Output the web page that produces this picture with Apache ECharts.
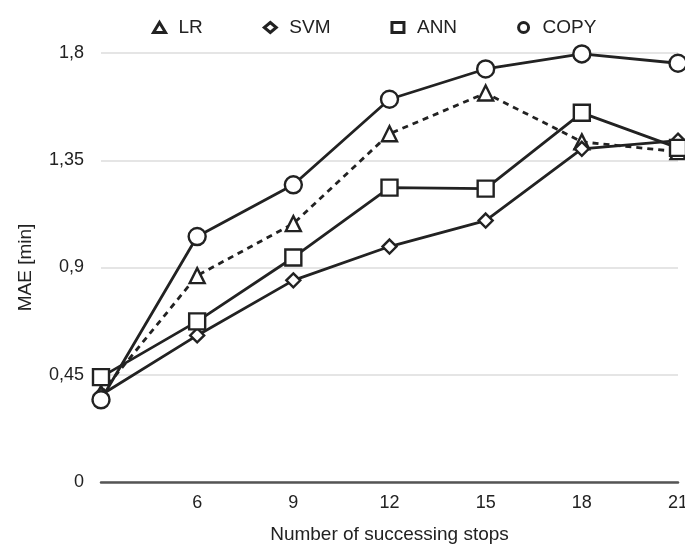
<!DOCTYPE html>
<html>
<head>
<meta charset="utf-8">
<script src="https://cdn.jsdelivr.net/npm/echarts@6/dist/echarts.min.js"></script>
<style>html,body{margin:0;padding:0;background:#fff}#c{width:685px;height:548px}</style>
</head>
<body>
<div id="c"></div>
<script>
const stops = [3, 6, 9, 12, 15, 18, 21];
const xTickLabels = [6, 9, 12, 15, 18, 21];
const yTicks = [0, 0.45, 0.9, 1.35, 1.8];
const seriesNames = ['LR', 'SVM', 'ANN', 'COPY'];
const lrValues   = [0.372, 0.866, 1.084, 1.461, 1.632, 1.427, 1.386];
const svmValues  = [0.365, 0.615, 0.846, 0.988, 1.097, 1.398, 1.432];
const annValues  = [0.440, 0.674, 0.942, 1.235, 1.231, 1.549, 1.402];
const copyValues = [0.345, 1.030, 1.247, 1.606, 1.733, 1.796, 1.757];

const ink = '#222';
function mk(name, vals, symbol, size, dashed) {
  return {
    name: name, type: 'line', data: stops.map((s, i) => [s, vals[i]]),
    symbol: symbol, symbolSize: size, showAllSymbol: true,
    lineStyle: { color: ink, width: 2.8, type: dashed ? [6, 5] : 'solid' },
    itemStyle: { color: '#fff', borderColor: ink, borderWidth: 2.4 },
    emphasis: { disabled: true }, z: 3
  };
}
const chart = echarts.init(document.getElementById('c'), null, { renderer: 'canvas' });
chart.setOption({
  animation: false,
  backgroundColor: '#fff',
  textStyle: { fontFamily: 'Liberation Sans, Arial, sans-serif' },
  legend: {
    top: 13, left: 147, itemGap: 60, itemWidth: 12, itemHeight: 10,
    symbolKeepAspect: true,
    itemStyle: { color: '#fff', borderColor: ink, borderWidth: 3 },
    textStyle: { fontSize: 19, color: ink, padding: [0, 0, 0, 8] },
    data: [
      { name: 'LR', icon: 'triangle' },
      { name: 'SVM', icon: 'diamond' },
      { name: 'ANN', icon: 'rect' },
      { name: 'COPY', icon: 'circle' }
    ]
  },
  grid: { left: 101, right: 7, top: 53, bottom: 66, containLabel: false, outerBoundsMode: 'none' },
  xAxis: {
    type: 'value', min: 3, max: 21, interval: 3,
    name: 'Number of successing stops', nameLocation: 'middle', nameGap: 43,
    nameTextStyle: { fontSize: 19, color: ink },
    axisLine: { show: true, lineStyle: { color: '#555', width: 2.5 } },
    axisTick: { show: false },
    splitLine: { show: false },
    axisLabel: {
      fontSize: 18, color: ink, margin: 12, showMinLabel: true,
      formatter: v => (xTickLabels.indexOf(v) >= 0 ? String(v) : '')
    }
  },
  yAxis: {
    type: 'value', min: 0, max: 1.8, interval: 0.45,
    name: 'MAE [min]', nameLocation: 'middle', nameGap: 66, nameRotate: 90,
    nameTextStyle: { fontSize: 19, color: ink },
    axisLine: { show: false }, axisTick: { show: false },
    splitLine: { lineStyle: { color: '#dcdcdc', width: 1.5 } },
    axisLabel: {
      fontSize: 18, color: ink, margin: 17,
      formatter: v => String(Math.round(v * 100) / 100).replace('.', ',')
    }
  },
  series: [
    mk('LR', lrValues, 'triangle', 15, true),
    mk('SVM', svmValues, 'diamond', 14, false),
    mk('ANN', annValues, 'rect', 16, false),
    mk('COPY', copyValues, 'circle', 17, false)
  ]
});
</script>
</body>
</html>
